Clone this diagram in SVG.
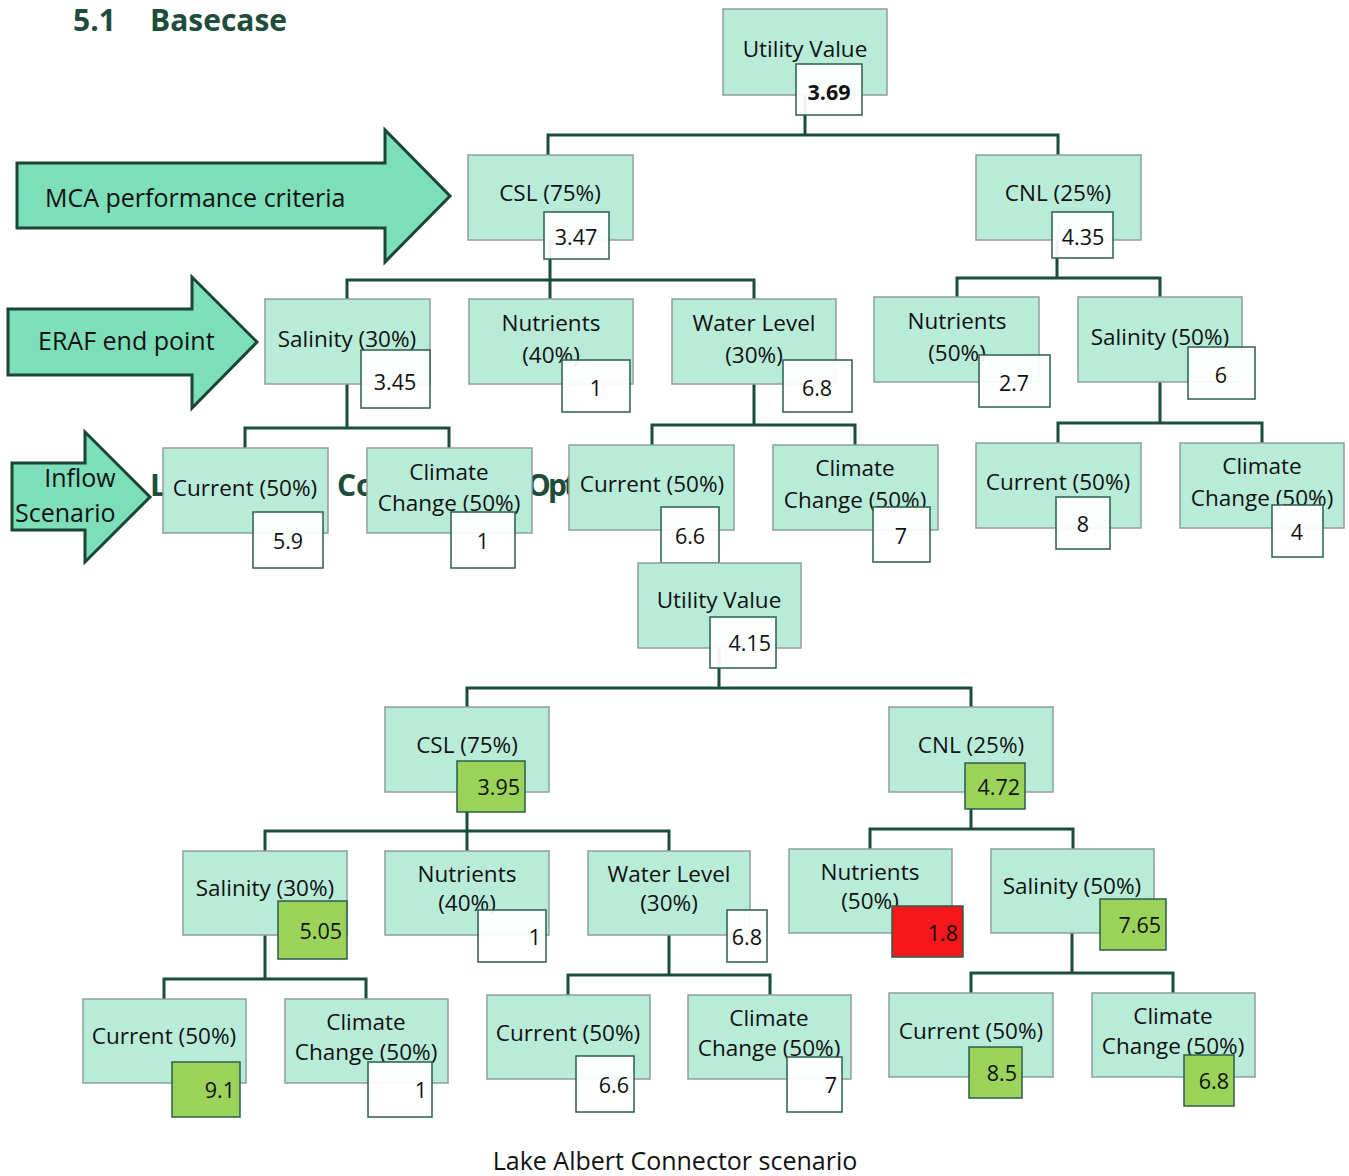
<svg xmlns="http://www.w3.org/2000/svg" width="1349" height="1176" viewBox="0 0 1349 1176">
<style>
.node{fill:#b8ecd9;stroke:#8f9f98;stroke-width:1.5}
.val{fill:#ffffff;fill-opacity:.93;stroke:#2b5e4b;stroke-width:1.5}
.g{fill:#9bd35a;fill-opacity:1}
.r{fill:#f5171a;fill-opacity:1}
.t{font-family:"Open Sans","Noto Sans",sans-serif;font-size:22.5px;fill:#111;text-anchor:middle}
.vc{font-family:"Open Sans","Noto Sans",sans-serif;font-size:21.5px;fill:#111;text-anchor:middle}
.ve{font-family:"Open Sans","Noto Sans",sans-serif;font-size:21.5px;fill:#111;text-anchor:end}
.conn{fill:none;stroke:#1b4d3b;stroke-width:3}
.arrow{fill:#7ddfb9;stroke:#1b4535;stroke-width:3}
.lab{font-family:"Open Sans","Noto Sans",sans-serif;font-size:25px;fill:#111}
.h{font-family:"Open Sans","Noto Sans",sans-serif;font-weight:bold;font-size:30px;fill:#1e4d3b}
</style>
<rect width="1349" height="1176" fill="#fff"/>
<text class="h" x="73" y="31">5.1</text>
<text class="h" x="150" y="31">Basecase</text>
<text class="h" y="496"><tspan x="150">Lake Albert</tspan><tspan x="337">Connector</tspan><tspan x="527" letter-spacing="-3">Option</tspan></text>

<g id="arrow-mca"><path class="arrow" d="M17 163H385V130L450 196L385 262V228H17Z"/><text class="lab" x="45" y="207">MCA performance criteria</text></g>
<g id="arrow-eraf"><path class="arrow" d="M8 309H192V277L257 342L192 408V375H8Z"/><text class="lab" x="38" y="350">ERAF end point</text></g>
<g id="arrow-inflow"><path class="arrow" d="M12 463H85V432L150 497L85 562V530H12Z"/><text class="lab" x="80" y="487" text-anchor="middle">Inflow</text><text class="lab" x="15" y="522">Scenario</text></g>

<g id="connectors">
<path class="conn" d="M805 95V135M548 155V135H1058V155"/>
<path class="conn" d="M550 240V299M347 299V280H754V299"/>
<path class="conn" d="M1057 240V278M957 297V278H1160V297"/>
<path class="conn" d="M347 384V428M245 448V428H449V448"/>
<path class="conn" d="M754 384V425M652 445V425H855V445"/>
<path class="conn" d="M1160 382V423M1058 443V423H1262V443"/>
<path class="conn" d="M719 648V688M467 707V688H971V707"/>
<path class="conn" d="M467 792V851M265 851V831H669V851"/>
<path class="conn" d="M971 792V829M870 849V829H1073V849"/>
<path class="conn" d="M265 935V979M164 999V979H366V999"/>
<path class="conn" d="M669 935V975M568 995V975H770V995"/>
<path class="conn" d="M1072 933V973M971 993V973H1173V993"/>
</g>

<!-- Top tree -->
<g id="t-utility"><rect class="node" x="723" y="9" width="164" height="86"/><text class="t" x="805" y="57">Utility Value</text><rect class="val" x="796" y="64" width="66" height="51"/><text class="vc" x="829" y="100" font-weight="bold">3.69</text></g>
<g id="t-csl"><rect class="node" x="468" y="155" width="165" height="85"/><text class="t" x="550" y="201">CSL (75%)</text><rect class="val" x="544" y="212" width="65" height="47"/><text class="vc" x="576" y="245">3.47</text></g>
<g id="t-cnl"><rect class="node" x="976" y="155" width="165" height="85"/><text class="t" x="1058" y="201">CNL (25%)</text><rect class="val" x="1052" y="212" width="61" height="46"/><text class="vc" x="1083" y="245">4.35</text></g>
<g id="t-sal30"><rect class="node" x="265" y="299" width="165" height="85"/><text class="t" x="347" y="347">Salinity (30%)</text><rect class="val" x="361" y="350" width="69" height="58"/><text class="vc" x="395" y="390">3.45</text></g>
<g id="t-nut40"><rect class="node" x="469" y="299" width="164" height="85"/><text class="t" x="551" y="331">Nutrients</text><text class="t" x="551" y="363">(40%)</text><rect class="val" x="562" y="360" width="68" height="52"/><text class="vc" x="596" y="396">1</text></g>
<g id="t-wl30"><rect class="node" x="672" y="299" width="164" height="85"/><text class="t" x="754" y="331">Water Level</text><text class="t" x="754" y="363">(30%)</text><rect class="val" x="783" y="360" width="69" height="52"/><text class="vc" x="817" y="396">6.8</text></g>
<g id="t-nut50"><rect class="node" x="874" y="297" width="165" height="85"/><text class="t" x="957" y="329">Nutrients</text><text class="t" x="957" y="361">(50%)</text><rect class="val" x="979" y="355" width="71" height="52"/><text class="vc" x="1014" y="391">2.7</text></g>
<g id="t-sal50"><rect class="node" x="1078" y="297" width="164" height="85"/><text class="t" x="1160" y="345">Salinity (50%)</text><rect class="val" x="1188" y="347" width="67" height="52"/><text class="vc" x="1221" y="383">6</text></g>
<g id="t-sal30-cur"><rect class="node" x="163" y="448" width="165" height="85"/><text class="t" x="245" y="496">Current (50%)</text><rect class="val" x="253" y="512" width="70" height="56"/><text class="vc" x="288" y="549">5.9</text></g>
<g id="t-sal30-cc"><rect class="node" x="367" y="448" width="165" height="85"/><text class="t" x="449" y="480">Climate</text><text class="t" x="449" y="511">Change (50%)</text><rect class="val" x="451" y="512" width="64" height="56"/><text class="vc" x="483" y="549">1</text></g>
<g id="t-wl-cur"><rect class="node" x="569" y="445" width="165" height="85"/><text class="t" x="652" y="492">Current (50%)</text><rect class="val" x="661" y="507" width="58" height="56"/><text class="vc" x="690" y="544">6.6</text></g>
<g id="t-wl-cc"><rect class="node" x="773" y="445" width="165" height="85"/><text class="t" x="855" y="476">Climate</text><text class="t" x="855" y="508">Change (50%)</text><rect class="val" x="873" y="507" width="57" height="55"/><text class="vc" x="901" y="544">7</text></g>
<g id="t-sal50-cur"><rect class="node" x="976" y="443" width="165" height="85"/><text class="t" x="1058" y="490">Current (50%)</text><rect class="val" x="1056" y="497" width="54" height="52"/><text class="vc" x="1083" y="532">8</text></g>
<g id="t-sal50-cc"><rect class="node" x="1180" y="443" width="164" height="85"/><text class="t" x="1262" y="474">Climate</text><text class="t" x="1262" y="506">Change (50%)</text><rect class="val" x="1272" y="505" width="51" height="52"/><text class="vc" x="1297" y="540">4</text></g>

<!-- Bottom tree -->
<g id="b-utility"><rect class="node" x="638" y="563" width="163" height="85"/><text class="t" x="719" y="608">Utility Value</text><rect class="val" x="710" y="617" width="66" height="51"/><text class="ve" x="771" y="651">4.15</text></g>
<g id="b-csl"><rect class="node" x="385" y="707" width="164" height="85"/><text class="t" x="467" y="753">CSL (75%)</text><rect class="val g" x="457" y="761" width="68" height="51"/><text class="ve" x="520" y="795">3.95</text></g>
<g id="b-cnl"><rect class="node" x="889" y="707" width="164" height="85"/><text class="t" x="971" y="753">CNL (25%)</text><rect class="val g" x="965" y="763" width="60" height="46"/><text class="ve" x="1020" y="795">4.72</text></g>
<g id="b-sal30"><rect class="node" x="183" y="851" width="164" height="84"/><text class="t" x="265" y="896">Salinity (30%)</text><rect class="val g" x="278" y="901" width="69" height="58"/><text class="ve" x="342" y="939">5.05</text></g>
<g id="b-nut40"><rect class="node" x="385" y="851" width="164" height="84"/><text class="t" x="467" y="882">Nutrients</text><text class="t" x="467" y="911">(40%)</text><rect class="val" x="478" y="910" width="68" height="52"/><text class="ve" x="541" y="945">1</text></g>
<g id="b-wl30"><rect class="node" x="588" y="851" width="162" height="84"/><text class="t" x="669" y="882">Water Level</text><text class="t" x="669" y="911">(30%)</text><rect class="val" x="727" y="910" width="40" height="52"/><text class="ve" x="762" y="945">6.8</text></g>
<g id="b-nut50"><rect class="node" x="789" y="849" width="163" height="84"/><text class="t" x="870" y="880">Nutrients</text><text class="t" x="870" y="909">(50%)</text><rect class="val r" x="892" y="906" width="71" height="51"/><text class="ve" x="958" y="941">1.8</text></g>
<g id="b-sal50"><rect class="node" x="991" y="849" width="163" height="84"/><text class="t" x="1072" y="894">Salinity (50%)</text><rect class="val g" x="1100" y="899" width="66" height="51"/><text class="ve" x="1161" y="933">7.65</text></g>
<g id="b-sal30-cur"><rect class="node" x="83" y="999" width="163" height="84"/><text class="t" x="164" y="1044">Current (50%)</text><rect class="val g" x="172" y="1062" width="68" height="55"/><text class="ve" x="235" y="1098">9.1</text></g>
<g id="b-sal30-cc"><rect class="node" x="285" y="999" width="163" height="84"/><text class="t" x="366" y="1030">Climate</text><text class="t" x="366" y="1060">Change (50%)</text><rect class="val" x="368" y="1062" width="64" height="55"/><text class="ve" x="427" y="1098">1</text></g>
<g id="b-wl-cur"><rect class="node" x="487" y="995" width="163" height="84"/><text class="t" x="568" y="1041">Current (50%)</text><rect class="val" x="576" y="1056" width="58" height="56"/><text class="ve" x="629" y="1093">6.6</text></g>
<g id="b-wl-cc"><rect class="node" x="688" y="995" width="163" height="84"/><text class="t" x="769" y="1026">Climate</text><text class="t" x="769" y="1056">Change (50%)</text><rect class="val" x="787" y="1057" width="55" height="55"/><text class="ve" x="837" y="1093">7</text></g>
<g id="b-sal50-cur"><rect class="node" x="889" y="993" width="164" height="84"/><text class="t" x="971" y="1039">Current (50%)</text><rect class="val g" x="969" y="1047" width="53" height="51"/><text class="ve" x="1017" y="1081">8.5</text></g>
<g id="b-sal50-cc"><rect class="node" x="1092" y="993" width="163" height="84"/><text class="t" x="1173" y="1024">Climate</text><text class="t" x="1173" y="1054">Change (50%)</text><rect class="val g" x="1184" y="1055" width="50" height="51"/><text class="ve" x="1229" y="1089">6.8</text></g>

<text class="lab" x="675" y="1170" text-anchor="middle">Lake Albert Connector scenario</text>
</svg>
